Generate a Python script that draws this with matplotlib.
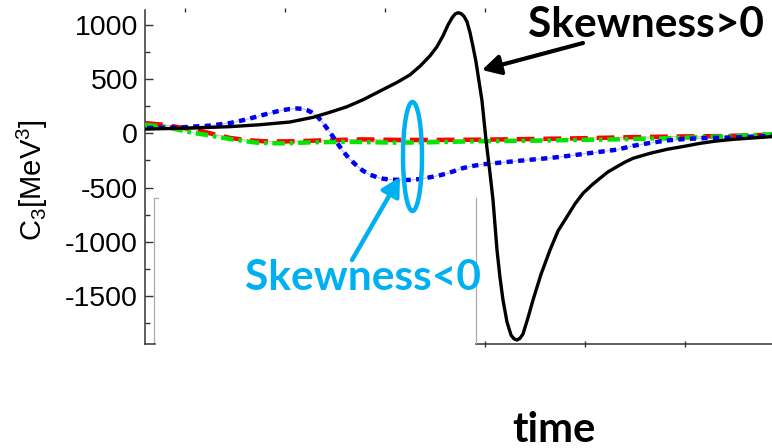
import matplotlib
matplotlib.use("Agg")
import matplotlib.pyplot as plt
from matplotlib.patches import Ellipse, FancyArrowPatch
from matplotlib.lines import Line2D
from matplotlib.ticker import MultipleLocator

# ---------------- data ----------------
black_t = [0.60, 0.85, 1.15, 1.45, 1.75, 2.05, 2.28, 2.45, 2.62, 2.78, 2.95, 3.12, 3.25, 3.35,
           3.45, 3.52, 3.58, 3.63, 3.67, 3.70, 3.73, 3.76, 3.79, 3.82, 3.85, 3.88, 3.91, 3.94,
           3.97, 4.01, 4.05, 4.08, 4.12, 4.15, 4.18, 4.22, 4.26, 4.29, 4.32, 4.35, 4.38, 4.43,
           4.48, 4.56, 4.65, 4.73, 4.82, 4.90, 4.98, 5.07, 5.15, 5.23, 5.32, 5.40, 5.48, 5.65,
           5.82, 6.00, 6.15, 6.30, 6.48, 6.68, 6.87]
black_c3 = [40, 45, 52, 62, 80, 105, 148, 195, 246, 310, 390, 470, 540, 620,
            715, 800, 900, 1000, 1065, 1100, 1113, 1105, 1080, 1030, 930, 800, 660, 480,
            300, -61, -367, -614, -1076, -1330, -1537, -1740, -1860, -1895, -1906, -1890, -1850, -1700,
            -1537, -1300, -1076, -900, -768, -650, -553, -475, -414, -355, -307, -265, -230, -184,
            -147, -118, -92, -72, -55, -42, -30]

blue_t = [0.62, 0.95, 1.25, 1.45, 1.62, 1.78, 1.95, 2.05, 2.12, 2.18, 2.22, 2.27, 2.32, 2.38,
          2.45, 2.52, 2.58, 2.65, 2.72, 2.78, 2.85, 2.92, 2.98, 3.05, 3.12, 3.20, 3.28, 3.36,
          3.45, 3.54, 3.62, 3.70, 3.78, 3.88, 3.98, 4.15, 4.32, 4.48, 4.65, 4.82, 4.98, 5.15,
          5.32, 5.48, 5.65, 5.82, 6.00, 6.15, 6.48, 6.87]
blue_c3 = [50, 55, 72, 95, 130, 170, 210, 225, 230, 226, 215, 192, 160, 95,
           10, -85, -165, -240, -300, -345, -380, -405, -418, -426, -428, -430, -428, -420,
           -405, -388, -370, -345, -320, -300, -285, -270, -255, -241, -227, -209, -190, -170,
           -150, -115, -88, -65, -52, -45, -38, -22]

red_t = [0.60, 0.78, 0.95, 1.12, 1.30, 1.45, 1.62, 1.78, 1.95, 2.12, 2.45, 2.78, 3.12, 3.45,
         3.95, 4.45, 4.95, 5.45, 5.95, 6.35, 6.87]
red_c3 = [95, 80, 55, 30, -10, -42, -62, -72, -74, -72, -62, -55, -60, -60,
          -58, -52, -45, -35, -28, -25, -12]

green_t = [0.60, 0.80, 0.95, 1.08, 1.22, 1.35, 1.45, 1.60, 1.72, 1.85, 1.95, 2.12, 2.28, 2.62,
           3.12, 3.45, 3.95, 4.45, 4.95, 5.32, 5.82, 6.32, 6.87]
green_c3 = [80, 60, 30, 5, -15, -36, -52, -72, -86, -90, -92, -88, -82, -78,
            -86, -82, -72, -68, -60, -55, -45, -30, -8]

y_ticks = [-1500, -1000, -500, 0, 500, 1000]
y_ticklabels = ["-1500", "-1000", "-500", "0", "500", "1000"]
x_ticks = [1, 2, 3, 4, 5, 6]

ylabel = r"C$_\mathregular{3}$[MeV$^\mathregular{3}$]"
label_pos = "Skewness>0"
label_neg = "Skewness<0"
xlabel = "time"

# ---------------- figure ----------------
W, H = 772, 448
plt.rcParams["font.family"] = ["Liberation Sans", "DejaVu Sans"]
plt.rcParams["mathtext.fontset"] = "custom"
plt.rcParams["mathtext.rm"] = "Liberation Sans"
plt.rcParams["axes.unicode_minus"] = False

fig = plt.figure(figsize=(W / 100, H / 100), dpi=100)
fig.patch.set_facecolor("white")


def fp(x, y):
    """pixel (from top-left) -> figure fraction"""
    return (x / W, 1 - y / H)


ax = fig.add_axes([145 / W, 1 - 343.5 / H, (W - 145) / W, (343.5 - 10) / H])
ax.set_xlim(0.6, 6.87)
ax.set_ylim(-1938, 1138)

# thin underlying lines
for t, c, col in [(red_t, red_c3, "#ff7777"), (green_t, green_c3, "#77ee77"), (blue_t, blue_c3, "#8888ff")]:
    ax.plot(t, c, color=col, lw=0.8, alpha=0.6, zorder=2)

ax.plot(red_t, red_c3, color="#ff0000", lw=3.2, dashes=(4.0, 2.0), zorder=3)
ax.plot(green_t, green_c3, color="#00e600", lw=3.2, dashes=(2.8, 1.1, 0.8, 1.1), zorder=3)
ax.plot(blue_t, blue_c3, color="#0000f0", lw=3.2, dashes=(1.4, 1.2), zorder=4)
ax.plot(black_t, black_c3, color="black", lw=2.4, zorder=5, solid_capstyle="round",
        solid_joinstyle="round")

# axes styling
for s in ["top", "right"]:
    ax.spines[s].set_visible(False)
ax.spines["left"].set_color("#333333")
ax.spines["bottom"].set_color("#333333")
ax.spines["left"].set_linewidth(1.1)
ax.spines["bottom"].set_linewidth(1.1)
ax.spines["bottom"].set_bounds((476 - 85) / 100, 6.87)

ax.set_yticks(y_ticks)
ax.set_yticklabels(y_ticklabels)
ax.yaxis.set_minor_locator(MultipleLocator(250))
ax.tick_params(axis="y", which="major", direction="in", length=6, width=1, labelsize=20.5, pad=5,
               color="#333333")
ax.tick_params(axis="y", which="minor", direction="in", length=3.5, width=1, color="#333333")

ax.set_xticks(x_ticks)
ax.tick_params(axis="x", which="major", direction="inout", length=5, width=1, top=True,
               labelbottom=False, labeltop=False, color="#333333")
for tick, val in zip(ax.xaxis.get_major_ticks(), x_ticks):
    tick.tick1line.set_visible(val >= 4)
    tick.tick2line.set_visible(val <= 4)
    tick.tick2line.set_markersize(3)

ax.set_ylabel(ylabel, fontsize=21)
ax.yaxis.set_label_coords(-0.152, 0.49)

# inset frame remnants
for (x0, y0, x1, y1) in [(154, 198, 154, 343), (476, 198, 476, 343), (154, 198, 158, 198)]:
    fig.add_artist(Line2D([x0 / W, x1 / W], [1 - y0 / H, 1 - y1 / H], color="#aaaaaa", lw=0.9))
fig.add_artist(Line2D([145 / W, 155 / W], [1 - 343.5 / H, 1 - 343.5 / H], color="#333333", lw=1.1))

# annotations
cyan = "#00b0f0"
fig.text(*fp(528, 37), label_pos, fontsize=30.5, fontweight="bold", family=["Lato", "DejaVu Sans"],
         ha="left", va="baseline", color="black")
fig.text(*fp(245, 290), label_neg, fontsize=30.5, fontweight="bold", family=["Lato", "DejaVu Sans"],
         ha="left", va="baseline", color=cyan)
fig.text(*fp(512, 442), xlabel, fontsize=30, fontweight="bold", family=["Lato", "DejaVu Sans"],
         ha="left", va="baseline", color="black")

fig.add_artist(FancyArrowPatch(fp(583, 43), fp(482, 70), transform=fig.transFigure,
                               arrowstyle="-|>,head_length=0.55,head_width=0.3", mutation_scale=20,
                               lw=3, color="black", shrinkA=0, shrinkB=0))
fig.add_artist(FancyArrowPatch(fp(352, 260), fp(400, 177), transform=fig.transFigure,
                               arrowstyle="-|>,head_length=0.55,head_width=0.3", mutation_scale=20,
                               lw=3.2, color=cyan, shrinkA=0, shrinkB=0))
cx, cy = fp(412.5, 156.5)
fig.add_artist(Ellipse((cx, cy), 19 / W, 109 / H, transform=fig.transFigure, fill=False,
                       edgecolor=cyan, lw=3.2))

fig.savefig("out.png", dpi=100, facecolor="white")
